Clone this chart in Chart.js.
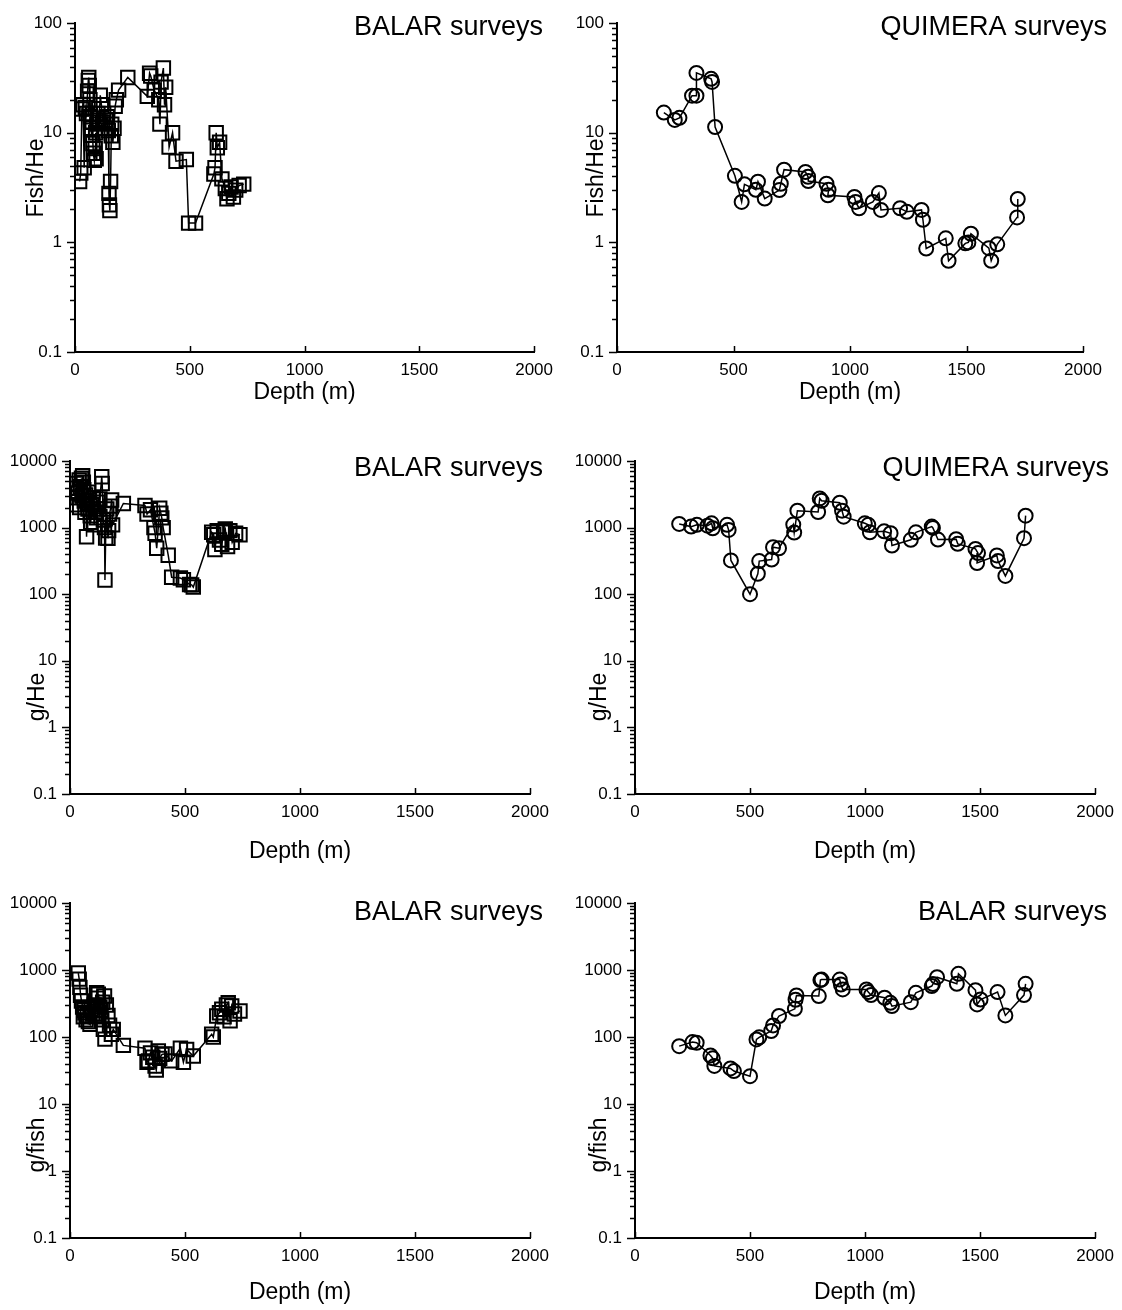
<!DOCTYPE html>
<html>
<head>
<meta charset="utf-8">
<title>Fish density and biomass by depth</title>
<script src="https://cdn.jsdelivr.net/npm/chart.js@4.4.0/dist/chart.umd.min.js"></script>
<style>
  html, body { margin: 0; padding: 0; background: #fff; }
  body { position: relative; width: 1122px; height: 1310px; overflow: hidden; }
  .panel { position: absolute; }
</style>
</head>
<body>
<script>
// BALAR surveys: depth (m) and values per station
const balarFishDepth = [20, 25, 30, 35, 40, 45, 50, 55, 58, 60, 62, 65, 68, 70, 72, 75, 78, 80, 84, 88, 90, 92, 95, 100, 105, 110, 115, 120, 125, 130, 135, 140, 145, 148, 150, 152, 155, 158, 160, 165, 170, 175, 180, 190, 230, 315, 325, 330, 345, 365, 370, 375, 385, 390, 395, 410, 425, 440, 485, 495, 525, 605, 610, 615, 620, 630, 640, 655, 662, 670, 680, 690, 700, 715, 735];
const balarFishPerHe = [3.6, 4.3, 16.5, 18, 4.8, 17, 15, 24, 30, 32, 27, 20, 14, 11, 9.5, 12.5, 8, 6.5, 5.6, 7.2, 10, 5.8, 12, 15, 13, 22, 18, 12.5, 15, 11, 13, 14, 10.5, 2.8, 2.2, 1.95, 3.6, 9.4, 12, 8.2, 11, 17.5, 20, 24.5, 32, 21.5, 35, 33, 24.5, 20, 12, 29, 39, 18, 26, 7.4, 10, 5.5, 5.7, 1.5, 1.5, 4.2, 4.8, 10, 7.3, 8.2, 3.8, 3.1, 2.5, 2.8, 3.2, 2.6, 3.0, 3.3, 3.4];

const balarGDepth = [26, 28, 30, 32, 35, 40, 42, 45, 50, 52, 55, 58, 60, 62, 65, 68, 72, 75, 78, 80, 85, 88, 90, 95, 100, 105, 110, 115, 120, 125, 130, 138, 140, 145, 150, 152, 155, 160, 165, 168, 172, 178, 181, 185, 232, 326, 335, 350, 365, 370, 377, 390, 395, 399, 405, 427, 442, 480, 493, 520, 529, 536, 616, 625, 630, 640, 650, 660, 668, 675, 685, 695, 705, 720, 739];
const balarGPerHe = [2200, 3900, 4600, 2800, 3300, 5200, 2000, 4100, 5500, 3000, 6000, 4800, 3700, 2500, 1700, 3100, 730, 2300, 1900, 3400, 2600, 1500, 1200, 2200, 2800, 1100, 1700, 1400, 2400, 1900, 2700, 5800, 4600, 1300, 1000, 163, 700, 1900, 690, 900, 1600, 2100, 2600, 1100, 2300, 2150, 1600, 1850, 1000, 820, 490, 1950, 1650, 1400, 1000, 385, 180, 175, 165, 140, 138, 128, 850, 780, 470, 900, 650, 560, 850, 950, 520, 900, 600, 820, 780];

const balarWDepth = [36, 40, 43, 46, 50, 55, 58, 62, 65, 70, 75, 80, 87, 92, 98, 105, 110, 116, 120, 123, 125, 130, 135, 138, 142, 145, 150, 152, 158, 165, 172, 180, 188, 232, 326, 335, 341, 350, 360, 370, 375, 384, 390, 400, 413, 442, 480, 493, 507, 536, 616, 623, 638, 650, 660, 670, 680, 688, 696, 703, 715, 739];
const balarGPerFish = [900, 730, 550, 420, 345, 280, 200, 250, 230, 180, 210, 170, 155, 260, 220, 300, 200, 460, 380, 435, 220, 280, 250, 180, 330, 130, 410, 93, 300, 210, 150, 110, 130, 75, 68, 42, 44, 58, 50, 37, 32, 62, 48, 55, 56, 44, 68, 42, 65, 52, 110, 100, 206, 230, 260, 200, 300, 325, 175, 290, 220, 245];

// QUIMERA surveys
const quimFishDepth = [201, 248, 268, 322, 341, 341, 404, 408, 421, 506, 535, 547, 596, 605, 634, 697, 703, 717, 809, 820, 821, 899, 908, 905, 1019, 1024, 1039, 1098, 1124, 1133, 1215, 1244, 1307, 1313, 1327, 1411, 1423, 1495, 1508, 1519, 1596, 1606, 1632, 1717, 1720];
const quimFishPerHe = [15.3, 13.1, 13.7, 21.8, 21.8, 35.2, 31.1, 29.1, 11.3, 4.05, 2.34, 3.39, 3.02, 3.58, 2.51, 3.0, 3.43, 4.61, 4.39, 3.97, 3.63, 3.43, 3.02, 2.69, 2.6, 2.34, 2.05, 2.34, 2.82, 1.98, 2.05, 1.9, 1.98, 1.61, 0.88, 1.09, 0.68, 0.98, 1.0, 1.2, 0.885, 0.68, 0.96, 1.69, 2.49];

const quimGDepth = [192, 244, 269, 315, 333, 338, 400, 407, 417, 500, 534, 540, 594, 600, 626, 688, 692, 706, 796, 803, 811, 890, 900, 907, 999, 1014, 1021, 1083, 1111, 1117, 1199, 1221, 1290, 1295, 1317, 1396, 1403, 1480, 1491, 1487, 1573, 1578, 1610, 1691, 1698];
const quimGPerHe = [1135, 1035, 1100, 1070, 1160, 977, 1100, 922, 321, 100, 203, 314, 332, 508, 490, 1109, 841, 1794, 1714, 2740, 2530, 2360, 1794, 1460, 1160, 1100, 850, 880, 822, 538, 655, 850, 1035, 990, 661, 670, 570, 479, 414, 294, 382, 314, 188, 693, 1511];

const quimWDepth = [192, 250, 268, 328, 338, 345, 415, 430, 500, 528, 540, 592, 600, 626, 695, 698, 702, 799, 806, 811, 890, 895, 903, 1006, 1014, 1026, 1085, 1110, 1117, 1199, 1221, 1290, 1295, 1313, 1399, 1406, 1480, 1487, 1502, 1576, 1610, 1691, 1698];
const quimGPerFish = [73, 84, 82, 53, 48, 37, 34, 31, 26, 92, 99, 123, 149, 206, 263, 360, 417, 408, 707, 720, 720, 608, 513, 513, 468, 422, 385, 324, 289, 331, 457, 576, 616, 781, 622, 877, 500, 306, 363, 468, 210, 422, 622];

const depthTicks = [0, 500, 1000, 1500, 2000];

const FONT = '"Liberation Sans", Arial, Helvetica, sans-serif';

// tick marks, axis titles and the survey name inside the plot
const panelDecor = {
  id: 'panelDecor',
  afterDraw(chart, args, o) {
    const { ctx, chartArea: a, scales: { x, y } } = chart;
    ctx.save();
    ctx.strokeStyle = '#000';
    ctx.lineWidth = 1.5;
    ctx.beginPath();
    for (let b = y.min; b < y.max * 1.001; b *= 10) {
      for (let k = 1; k <= 9; k++) {
        const v = k * b;
        if (v > y.max * 1.001) break;
        const py = Math.round(y.getPixelForValue(v)) + 0.5;
        ctx.moveTo(a.left, py);
        ctx.lineTo(a.left - (k === 1 ? 8 : 5), py);
      }
    }
    depthTicks.forEach(d => {
      const px = Math.round(x.getPixelForValue(d)) + 0.5;
      ctx.moveTo(px, a.bottom);
      ctx.lineTo(px, a.bottom - 6);
    });
    ctx.stroke();

    ctx.fillStyle = '#000';
    ctx.font = '27px ' + FONT;
    ctx.textAlign = 'right';
    ctx.textBaseline = 'alphabetic';
    ctx.fillText(o.title, a.right + o.titleDx, a.top + o.titleDy);

    ctx.font = '23px ' + FONT;
    ctx.textAlign = 'center';
    ctx.textBaseline = 'middle';
    ctx.fillText('Depth (m)', (a.left + a.right) / 2, a.bottom + o.xTitleDy);

    ctx.translate(o.yTitleX, o.yTitleY);
    ctx.rotate(-Math.PI / 2);
    ctx.fillText(o.yTitle, 0, 0);
    ctx.restore();
  }
};

function makePanel(p) {
  const box = p.box;
  const area = p.area;
  const wrap = document.createElement('div');
  wrap.className = 'panel';
  wrap.style.left = box.x + 'px';
  wrap.style.top = box.y + 'px';
  wrap.style.width = box.w + 'px';
  wrap.style.height = box.h + 'px';
  const canvas = document.createElement('canvas');
  canvas.width = box.w;
  canvas.height = box.h;
  wrap.appendChild(canvas);
  document.body.appendChild(wrap);

  const decades = [];
  for (let v = p.yMin; v < p.yMax * 1.001; v *= 10) decades.push(v);

  new Chart(canvas, {
    type: 'scatter',
    data: {
      datasets: [{
        data: p.depth.map((d, i) => ({ x: d, y: p.values[i] })),
        showLine: true,
        borderColor: '#000',
        borderWidth: 1.5,
        pointStyle: p.marker,
        pointRadius: p.marker === 'rect' ? 9.5 : 7,
        pointBorderWidth: 2,
        pointBorderColor: '#000',
        pointBackgroundColor: 'rgba(0,0,0,0)'
      }]
    },
    options: {
      responsive: false,
      animation: false,
      devicePixelRatio: 1,
      layout: {
        padding: { left: 0, top: area.T - box.y, right: box.x + box.w - area.R, bottom: 0 }
      },
      plugins: {
        legend: { display: false },
        tooltip: { enabled: false },
        panelDecor: {
          title: p.title,
          titleDx: p.titleDx,
          titleDy: p.titleDy,
          yTitle: p.yTitle,
          yTitleX: p.yTitleX - box.x,
          yTitleY: p.yTitleY - box.y,
          xTitleDy: p.xTitleDy
        }
      },
      scales: {
        x: {
          type: 'linear',
          min: 0,
          max: 2000,
          afterBuildTicks: s => { s.ticks = depthTicks.map(v => ({ value: v })); },
          afterFit: s => { s.height = box.y + box.h - area.B; },
          ticks: { color: '#000', font: { family: FONT, size: 17 }, padding: 8, maxRotation: 0, callback: v => String(v) },
          grid: { display: false, drawTicks: false },
          border: { color: '#000', width: 2 }
        },
        y: {
          type: 'logarithmic',
          min: p.yMin,
          max: p.yMax,
          afterBuildTicks: s => { s.ticks = decades.map(v => ({ value: v, major: true })); },
          afterFit: s => { s.width = area.L - box.x; },
          ticks: { color: '#000', font: { family: FONT, size: 17 }, padding: 13, callback: v => String(v) },
          grid: { display: false, drawTicks: false },
          border: { color: '#000', width: 2 }
        }
      }
    },
    plugins: [panelDecor]
  });
}

makePanel({
  depth: balarFishDepth, values: balarFishPerHe, marker: 'rect', yMin: 0.1, yMax: 100,
  title: 'BALAR surveys', titleDx: 9, titleDy: 12, yTitle: 'Fish/He', yTitleX: 37, yTitleY: 178, xTitleDy: 41,
  box: { x: 0, y: 0, w: 561, h: 420 }, area: { L: 75, T: 15, R: 535, B: 352 }
});
makePanel({
  depth: quimFishDepth, values: quimFishPerHe, marker: 'circle', yMin: 0.1, yMax: 100,
  title: 'QUIMERA surveys', titleDx: 24, titleDy: 12, yTitle: 'Fish/He', yTitleX: 597, yTitleY: 178, xTitleDy: 41,
  box: { x: 561, y: 0, w: 561, h: 420 }, area: { L: 617, T: 15, R: 1083, B: 352 }
});
makePanel({
  depth: balarGDepth, values: balarGPerHe, marker: 'rect', yMin: 0.1, yMax: 10000,
  title: 'BALAR surveys', titleDx: 13, titleDy: 15, yTitle: 'g/He', yTitleX: 38, yTitleY: 697, xTitleDy: 58,
  box: { x: 0, y: 420, w: 561, h: 450 }, area: { L: 70, T: 461, R: 530, B: 794 }
});
makePanel({
  depth: quimGDepth, values: quimGPerHe, marker: 'circle', yMin: 0.1, yMax: 10000,
  title: 'QUIMERA surveys', titleDx: 14, titleDy: 15, yTitle: 'g/He', yTitleX: 600, yTitleY: 697, xTitleDy: 58,
  box: { x: 561, y: 420, w: 561, h: 450 }, area: { L: 635, T: 461, R: 1098, B: 794 }
});
makePanel({
  depth: balarWDepth, values: balarGPerFish, marker: 'rect', yMin: 0.1, yMax: 10000,
  title: 'BALAR surveys', titleDx: 13, titleDy: 17, yTitle: 'g/fish', yTitleX: 38, yTitleY: 1145, xTitleDy: 55,
  box: { x: 0, y: 870, w: 561, h: 440 }, area: { L: 70, T: 903, R: 530, B: 1238 }
});
makePanel({
  depth: quimWDepth, values: quimGPerFish, marker: 'circle', yMin: 0.1, yMax: 10000,
  title: 'BALAR surveys', titleDx: 12, titleDy: 17, yTitle: 'g/fish', yTitleX: 600, yTitleY: 1145, xTitleDy: 55,
  box: { x: 561, y: 870, w: 561, h: 440 }, area: { L: 635, T: 903, R: 1098, B: 1238 }
});
</script>
</body>
</html>
